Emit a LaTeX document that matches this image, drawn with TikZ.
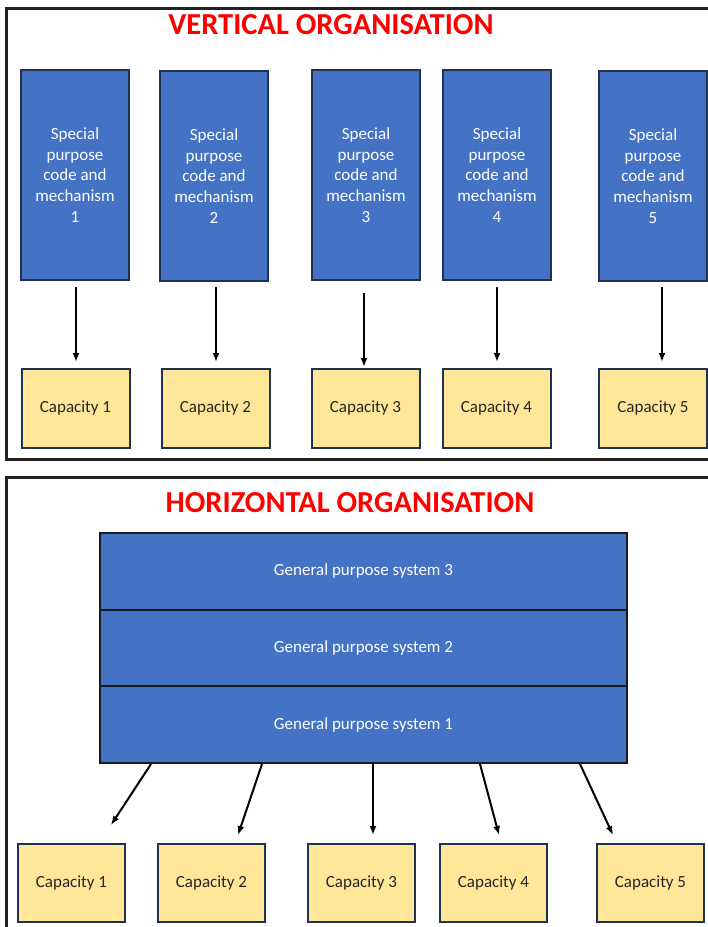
\documentclass[tikz,border=0pt]{standalone}
\usepackage{fontspec}
\setmainfont{Carlito}
\usetikzlibrary{arrows.meta}
\definecolor{boxblue}{HTML}{4472C4}
\definecolor{navy}{HTML}{1F3250}
\definecolor{capfill}{HTML}{FFE699}
\definecolor{framecol}{HTML}{222222}
\definecolor{titlered}{HTML}{FF0000}
\begin{document}
\begin{tikzpicture}[x=1pt,y=-1pt,
  frame/.style={draw=framecol,line width=3pt},
  title/.style={text=titlered,font=\fontsize{30.5}{34}\selectfont\bfseries,inner sep=0pt},
  spbox/.style={draw=navy,line width=2pt,fill=boxblue,minimum width=108pt,minimum height=210pt,inner sep=0pt,align=center,text=white,font=\fontsize{17}{20.6}\selectfont},
  capbox/.style={draw=navy,line width=2pt,fill=capfill,minimum width=107pt,minimum height=78pt,inner sep=0pt,text=black!85,font=\fontsize{17}{20}\selectfont},
  gpbox/.style={draw=black!90,line width=2pt,fill=boxblue,minimum width=527pt,minimum height=76.7pt,inner sep=0pt,text=white,font=\fontsize{17}{20}\selectfont},
  arr/.style={draw=black,line width=2pt,-{Latex[length=9pt,width=7pt]}}
]
\useasboundingbox (0,0) rectangle (708,927);
\clip (0,0) rectangle (708,927);
\fill[white] (0,0) rectangle (708,927);
% panels
\draw[frame] (6,8) rectangle (720,459);
\draw[frame] (6,477) rectangle (720,940);
% titles
\node[title] (t1) at (331,25) {VERTICAL ORGANISATION};
\node[title] (t2) at (350,503) {HORIZONTAL ORGANISATION};
% vertical organisation
\node[spbox] (b1) at (75,175) {Special\\purpose\\code and\\mechanism\\1};
\node[spbox] (b2) at (214,176) {Special\\purpose\\code and\\mechanism\\2};
\node[spbox] (b3) at (366,175) {Special\\purpose\\code and\\mechanism\\3};
\node[spbox] (b4) at (497,175) {Special\\purpose\\code and\\mechanism\\4};
\node[spbox] (b5) at (653,176) {Special\\purpose\\code and\\mechanism\\5};
\node[capbox,minimum width=108pt,minimum height=79pt] (c1) at (75.5,408.5) {Capacity 1};
\node[capbox,minimum width=108pt,minimum height=79pt] (c2) at (215.5,408.5) {Capacity 2};
\node[capbox,minimum width=108pt,minimum height=79pt] (c3) at (365.5,408.5) {Capacity 3};
\node[capbox,minimum width=108pt,minimum height=79pt] (c4) at (496.5,408.5) {Capacity 4};
\node[capbox,minimum width=108pt,minimum height=79pt] (c5) at (653,408.5) {Capacity 5};
\coordinate (s1) at (76,287);  \coordinate (e1) at (76,362);
\coordinate (s2) at (216,287); \coordinate (e2) at (216,362);
\coordinate (s3) at (364,293); \coordinate (e3) at (364,367);
\coordinate (s4) at (497,287); \coordinate (e4) at (497,362);
\coordinate (s5) at (662,287); \coordinate (e5) at (662,362);
\foreach \i in {1,...,5} {\draw[arr] (s\i) -- (e\i);}
% horizontal organisation
\node[gpbox] (g3) at (363.5,571.3) {General purpose system 3};
\node[gpbox] (g2) at (363.5,648) {General purpose system 2};
\node[gpbox] (g1) at (363.5,724.7) {General purpose system 1};
\node[capbox] (d1) at (71.5,883) {Capacity 1};
\node[capbox] (d2) at (211.5,883) {Capacity 2};
\node[capbox] (d3) at (361.5,883) {Capacity 3};
\node[capbox] (d4) at (493.5,883) {Capacity 4};
\node[capbox] (d5) at (650.5,883) {Capacity 5};
\coordinate (u1) at (151,764); \coordinate (v1) at (111,825);
\coordinate (u2) at (262,764); \coordinate (v2) at (238,835);
\coordinate (u3) at (373,764); \coordinate (v3) at (373,835);
\coordinate (u4) at (480,764); \coordinate (v4) at (499,835);
\coordinate (u5) at (580,764); \coordinate (v5) at (613,835);
\foreach \i in {1,...,5} {\draw[arr] (u\i) -- (v\i);}
\end{tikzpicture}
\end{document}
